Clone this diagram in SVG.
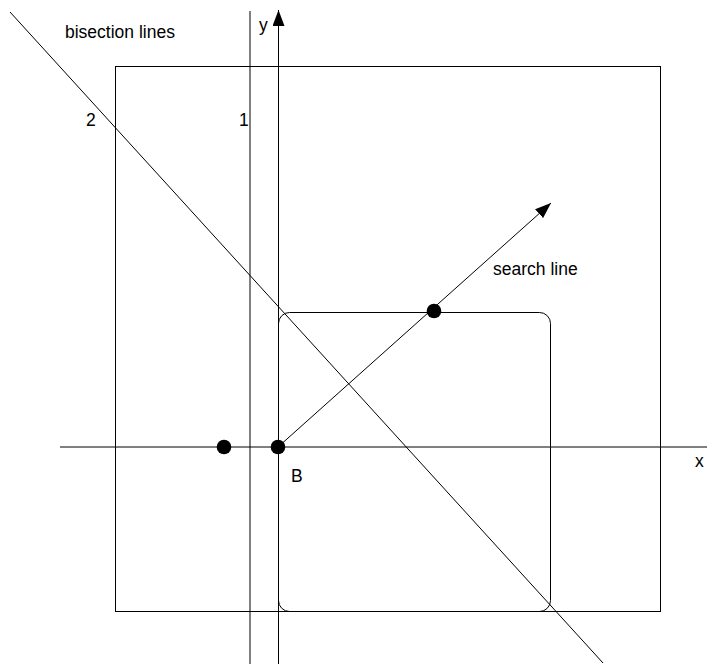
<svg xmlns="http://www.w3.org/2000/svg" width="707" height="664" viewBox="0 0 707 664">
<defs>
<marker id="arrY" viewBox="0 0 16 12" refX="16" refY="6" markerWidth="16" markerHeight="12" markerUnits="userSpaceOnUse" orient="auto">
<path d="M0,0 L16,6 L0,12 Z" fill="#000"/>
</marker>
</defs>
<style>
.ln{stroke:#000;stroke-width:1;fill:none}
.t{font-family:"Liberation Sans",Arial,sans-serif;font-size:17.5px;fill:#000}
.dot{fill:#000}
</style>
<rect width="707" height="664" fill="#fff"/>
<g id="outer-square"><rect class="ln" x="115.5" y="66.5" width="545" height="545"/></g>
<g id="inner-square"><rect class="ln" x="278.5" y="312.5" width="272" height="299" rx="11"/></g>
<g id="connectors">
<line class="ln" x1="60" y1="447" x2="707" y2="447"/>
<line class="ln" x1="250" y1="11" x2="250" y2="664"/>
<line class="ln" x1="278.5" y1="664" x2="278.5" y2="10" marker-end="url(#arrY)"/>
<line class="ln" x1="10" y1="12" x2="603" y2="663"/>
<line class="ln" x1="278" y1="447" x2="551" y2="203" marker-end="url(#arrY)"/>
</g>
<g id="dots">
<circle class="dot" cx="224" cy="447" r="7.3"/>
<circle class="dot" cx="278" cy="447" r="7.3"/>
<circle class="dot" cx="434" cy="311" r="7.3"/>
</g>
<g id="labels">
<text class="t" x="65" y="38">bisection lines</text>
<text class="t" x="259" y="31">y</text>
<text class="t" x="86" y="126">2</text>
<text class="t" x="239" y="126">1</text>
<text class="t" x="493" y="275">search line</text>
<text class="t" x="291" y="482">B</text>
<text class="t" x="695" y="467">x</text>
</g>
</svg>
